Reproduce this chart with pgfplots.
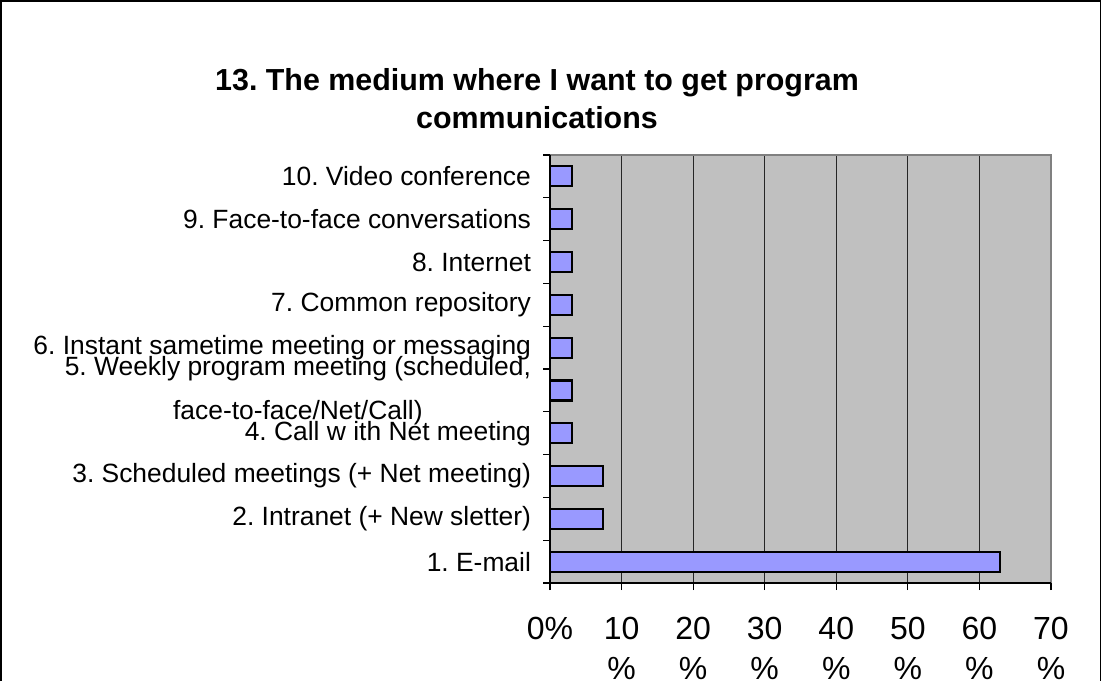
\documentclass[border=0pt]{standalone}
\usepackage{pgfplots}
\pgfplotsset{compat=1.18}
\usepackage{fontspec}
\setmainfont{Liberation Sans}
\frenchspacing
\definecolor{plotgray}{HTML}{C0C0C0}
\definecolor{barblue}{HTML}{9999FF}
\definecolor{edgegray}{HTML}{808080}
\begin{document}
\begin{tikzpicture}
\path[use as bounding box] (0,0) rectangle (551pt,340.5pt);
\draw[black, line width=0.8pt] (0.6pt,0) -- (0.6pt,340pt) -- (550.2pt,340pt) -- (550.2pt,0);
\node[align=center, font=\bfseries\fontsize{15.2}{19}\selectfont] at (268.5pt,291pt)
  {13. The medium where I want to get program\\communications};
\begin{axis}[
  at={(275pt,49pt)}, anchor=south west,
  scale only axis, width=250.5pt, height=214pt,
  xmin=0, xmax=70, ymin=0.5, ymax=10.5,
  axis background/.style={fill=plotgray},
  axis line style={draw=none},
  xtick={0,10,...,70},
  xtick pos=bottom, ytick pos=left,
  xticklabels={0\%,{10\\\%},{20\\\%},{30\\\%},{40\\\%},{50\\\%},{60\\\%},{70\\\%}},
  xticklabel style={anchor=north, align=center, font=\fontsize{16}{20}\selectfont, yshift=-10pt},
  xmajorgrids,
  major grid style={black!85, line width=0.6pt},
  tick align=outside,
  major tick length=3.5pt,
  tick style={black, line width=0.6pt},
  ytick={0.5,1.5,...,9.5},
  yticklabels={1. E-mail, 2. Intranet (+ New sletter), 3. Scheduled meetings (+ Net meeting), 4. Call w ith Net meeting, {5. Weekly program meeting (scheduled,\\[8pt]face-to-face/Net/Call)}, 6. Instant sametime meeting or messaging, 7. Common repository, 8. Internet, 9. Face-to-face conversations, 10. Video conference},
  yticklabel style={anchor=east, align=center, font=\fontsize{13.2}{14}\selectfont, yshift=10.7pt, xshift=-2.5pt},
  extra y ticks={10.5}, extra y tick labels={},
  xbar, bar width=10pt, bar shift=0pt,
  clip=false,
]
\addplot[fill=barblue, draw=black, line width=1.1pt] coordinates {
  (62.9,1) (7.4,2) (7.4,3) (3.1,4) (3.1,5) (3.1,6) (3.1,7) (3.1,8) (3.1,9) (3.1,10)
};
\draw[edgegray, line width=1.2pt] (rel axis cs:0,1) -- (rel axis cs:1,1) -- (rel axis cs:1,0);
\draw[black, line width=0.7pt] (rel axis cs:0,1) -- (rel axis cs:0,0) -- (rel axis cs:1,0);
\end{axis}
\end{tikzpicture}
\end{document}
